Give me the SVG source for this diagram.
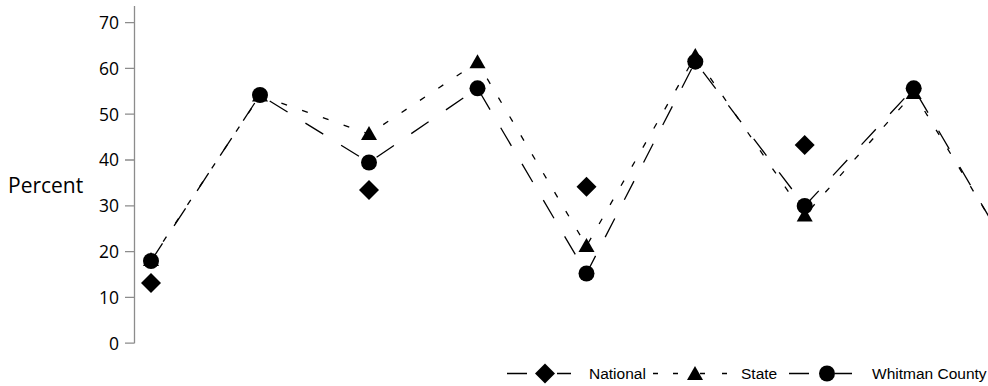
<svg xmlns="http://www.w3.org/2000/svg" width="988" height="386" viewBox="0 0 988 386">
<style>
.ax{stroke:#8c8c8c;stroke-width:1.3;fill:none}
.tl{font-family:"Open Sans","Noto Sans",sans-serif;font-size:17.5px;fill:#000;text-anchor:end}
.tt{font-family:"Open Sans","Noto Sans",sans-serif;font-size:21px;fill:#000}
.lg{font-family:"Liberation Sans",Arial,sans-serif;font-size:15.5px;fill:#000}
.county{stroke:#000;stroke-width:1.3;fill:none;stroke-dasharray:21 21}
.state{stroke:#000;stroke-width:1.3;fill:none;stroke-dasharray:6 16}
.solid{stroke:#000;stroke-width:1.3;fill:none}
.mk{fill:#000}
</style>
<defs>
<path id="dia" d="M0,-10L10,0L0,10L-10,0Z"/>
<path id="tri" d="M0,-8L8,6L-8,6Z"/>
<circle id="dot" r="8"/>
</defs>
<g id="axis">
<path class="ax" d="M134.5,6V343.2M125,343.2H134.5M125,297.4H134.5M125,251.6H134.5M125,205.8H134.5M125,160H134.5M125,114.2H134.5M125,68.4H134.5M125,22.6H134.5"/>
<text class="tl" x="119" y="349.5">0</text>
<text class="tl" x="119" y="303.7">10</text>
<text class="tl" x="119" y="257.9">20</text>
<text class="tl" x="119" y="212.1">30</text>
<text class="tl" x="119" y="166.3">40</text>
<text class="tl" x="119" y="120.5">50</text>
<text class="tl" x="119" y="74.7">60</text>
<text class="tl" x="119" y="28.9">70</text>
<text class="tt" x="8" y="193">Percent</text>
</g>
<g id="connectors">
<polyline class="state" points="151,260 260,95.5 369,134 477.5,62.3 586.5,246 695.3,56 804.7,215.5 913.7,93 1022.5,272"/>
<polyline class="county" points="151,261 260,95 369,162.5 477.5,88.3 586.5,273.5 695.3,61.7 804.7,206 913.7,88.3 1022.5,274"/>
</g>
<g id="national" class="mk">
<use href="#dia" x="151" y="283"/>
<use href="#dia" x="369" y="190"/>
<use href="#dia" x="586.5" y="186.7"/>
<use href="#dia" x="804.7" y="145"/>
</g>
<g id="state" class="mk">
<use href="#tri" x="151" y="260"/>
<use href="#tri" x="260" y="95.5"/>
<use href="#tri" x="369" y="134"/>
<use href="#tri" x="477.5" y="62.3"/>
<use href="#tri" x="586.5" y="246"/>
<use href="#tri" x="695.3" y="56"/>
<use href="#tri" x="804.7" y="215.5"/>
<use href="#tri" x="913.7" y="93"/>
</g>
<g id="whitman-county" class="mk">
<use href="#dot" x="151" y="261"/>
<use href="#dot" x="260" y="95"/>
<use href="#dot" x="369" y="162.5"/>
<use href="#dot" x="477.5" y="88.3"/>
<use href="#dot" x="586.5" y="273.5"/>
<use href="#dot" x="695.3" y="61.7"/>
<use href="#dot" x="804.7" y="206"/>
<use href="#dot" x="913.7" y="88.3"/>
</g>
<g id="legend">
<path class="solid" d="M507,373.5H527M557,373.5H571"/>
<use class="mk" href="#dia" x="545" y="373.5"/>
<text class="lg" x="589" y="379">National</text>
<path class="solid" d="M653,373.5H658M673,373.5H678M700,373.5H705M722,373.5H727"/>
<use class="mk" href="#tri" x="695" y="374"/>
<text class="lg" x="741" y="379">State</text>
<path class="solid" d="M789,373.5H809M835,373.5H852"/>
<use class="mk" href="#dot" x="827" y="373.5"/>
<text class="lg" x="872" y="379">Whitman County</text>
</g>
</svg>
